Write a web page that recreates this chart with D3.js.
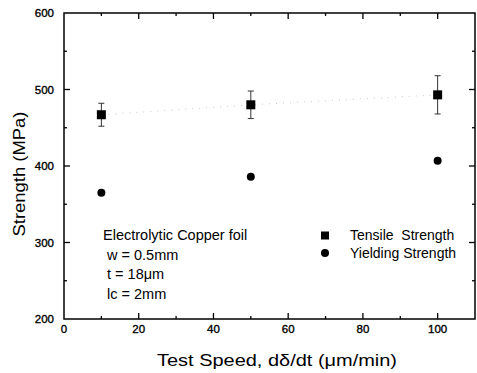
<!DOCTYPE html>
<html>
<head>
<meta charset="utf-8">
<script src="https://cdn.jsdelivr.net/npm/d3@7"></script>
<style>
  body { margin: 0; background: #fff; }
  text { font-family: "Liberation Sans", Arial, sans-serif; fill: #000; }
</style>
</head>
<body>
<div id="chart"></div>
<script>
// data
const speeds = [10, 50, 100];
const tensile = [467, 480, 493];
const tensileErr = [15, 18, 25];
const yielding = [365, 386, 407];
const xTicks = [0, 20, 40, 60, 80, 100];
const yTicks = [200, 300, 400, 500, 600];
const infoLines = ['Electrolytic Copper foil', ' w = 0.5mm', ' t = 18\u03bcm', ' lc = 2mm'];
const legendNames = ['Tensile  Strength', 'Yielding Strength'];

const width = 477, height = 373;
const plotL = 64, plotR = 475, plotT = 13, plotB = 319;

const svg = d3.select('#chart').append('svg')
  .attr('width', width).attr('height', height);

const x = d3.scaleLinear().domain([0, 110]).range([plotL, plotR]);
const y = d3.scaleLinear().domain([200, 600]).range([plotB, plotT]);

// frame
svg.append('rect')
  .attr('x', plotL).attr('y', plotT)
  .attr('width', plotR - plotL).attr('height', plotB - plotT)
  .attr('fill', 'none').attr('stroke', '#000').attr('stroke-width', 1.5);

// inward ticks on all four sides
const xMinor = d3.range(10, 110, 10);
const yMinor = d3.range(250, 600, 50);
const tickG = svg.append('g').attr('stroke', '#000').attr('stroke-width', 1.3);
xMinor.forEach((v) => {
  const len = v % 20 === 0 ? 6 : 3;
  tickG.append('line').attr('x1', x(v)).attr('x2', x(v)).attr('y1', plotB).attr('y2', plotB - len);
  tickG.append('line').attr('x1', x(v)).attr('x2', x(v)).attr('y1', plotT).attr('y2', plotT + len);
});
yMinor.forEach((v) => {
  const len = v % 100 === 0 ? 6 : 3;
  tickG.append('line').attr('y1', y(v)).attr('y2', y(v)).attr('x1', plotL).attr('x2', plotL + len);
  tickG.append('line').attr('y1', y(v)).attr('y2', y(v)).attr('x1', plotR).attr('x2', plotR - len);
});

// tick labels (scan makes them look heavy)
svg.append('g').selectAll('text').data(xTicks).enter().append('text')
  .attr('x', (d) => x(d)).attr('y', plotB + 14)
  .attr('text-anchor', 'middle').style('font-size', '11.5px')
  .attr('stroke', '#000').attr('stroke-width', 0.35)
  .text((d) => d);

svg.append('g').selectAll('text').data(yTicks).enter().append('text')
  .attr('x', plotL - 10).attr('y', (d) => y(d) + 4)
  .attr('text-anchor', 'end').style('font-size', '11.5px')
  .attr('stroke', '#000').attr('stroke-width', 0.35)
  .text((d) => d);

// axis titles (glyphs look horizontally stretched in the scan)
svg.append('text')
  .attr('x', 157).attr('y', 366)
  .style('font-size', '16px')
  .attr('textLength', 240).attr('lengthAdjust', 'spacingAndGlyphs')
  .text('Test Speed, d\u03b4/dt (\u03bcm/min)');

svg.append('text')
  .attr('transform', 'translate(25,174) rotate(-90)')
  .attr('text-anchor', 'middle').style('font-size', '16px')
  .attr('textLength', 125).attr('lengthAdjust', 'spacingAndGlyphs')
  .text('Strength (MPa)');

// faint dotted line through tensile points
svg.append('path')
  .datum(speeds.map((s, i) => [s, tensile[i]]))
  .attr('d', d3.line().x((d) => x(d[0])).y((d) => y(d[1])))
  .attr('fill', 'none').attr('stroke', '#bbb')
  .attr('stroke-width', 0.8).attr('stroke-dasharray', '1,6');

// error bars
const err = svg.append('g').attr('stroke', '#333').attr('stroke-width', 1);
speeds.forEach((s, i) => {
  err.append('line').attr('x1', x(s)).attr('x2', x(s))
    .attr('y1', y(tensile[i] - tensileErr[i])).attr('y2', y(tensile[i] + tensileErr[i]));
  err.append('line').attr('x1', x(s) - 3).attr('x2', x(s) + 3)
    .attr('y1', y(tensile[i] + tensileErr[i])).attr('y2', y(tensile[i] + tensileErr[i]));
  err.append('line').attr('x1', x(s) - 3).attr('x2', x(s) + 3)
    .attr('y1', y(tensile[i] - tensileErr[i])).attr('y2', y(tensile[i] - tensileErr[i]));
});

// markers
svg.append('g').selectAll('rect').data(speeds).enter().append('rect')
  .attr('x', (d) => x(d) - 4.5).attr('y', (d, i) => y(tensile[i]) - 4.5)
  .attr('width', 9).attr('height', 9).attr('fill', '#000');

svg.append('g').selectAll('circle').data(speeds).enter().append('circle')
  .attr('cx', (d) => x(d)).attr('cy', (d, i) => y(yielding[i]))
  .attr('r', 4).attr('fill', '#000');

// sample info text
svg.append('g').selectAll('text').data(infoLines).enter().append('text')
  .attr('x', 103).attr('y', (d, i) => 240 + i * 19.5)
  .style('font-size', '14.5px').style('white-space', 'pre')
  .text((d) => d);

// legend
svg.append('rect').attr('x', 321).attr('y', 231.5).attr('width', 8).attr('height', 8).attr('fill', '#000');
svg.append('circle').attr('cx', 325).attr('cy', 253).attr('r', 4).attr('fill', '#000');
svg.append('g').selectAll('text').data(legendNames).enter().append('text')
  .attr('x', 350).attr('y', (d, i) => 240 + i * 18)
  .style('font-size', '14px').style('white-space', 'pre')
  .text((d) => d);
</script>
</body>
</html>
